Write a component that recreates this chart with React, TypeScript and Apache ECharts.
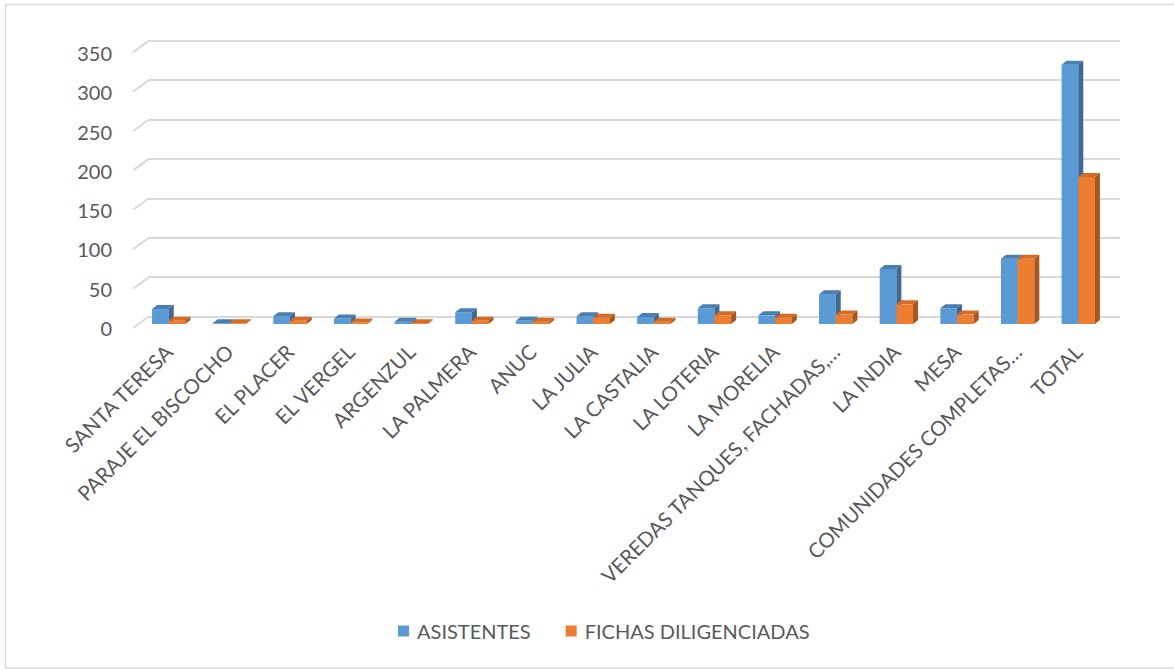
import React, { useEffect, useRef } from "react";
import * as echarts from "echarts";

const categories = [
  "SANTA TERESA",
  "PARAJE EL BISCOCHO",
  "EL PLACER",
  "EL VERGEL",
  "ARGENZUL",
  "LA PALMERA",
  "ANUC",
  "LA JULIA",
  "LA CASTALIA",
  "LA LOTERIA",
  "LA MORELIA",
  "VEREDAS TANQUES, FACHADAS,…",
  "LA INDIA",
  "MESA",
  "COMUNIDADES COMPLETAS…",
  "TOTAL",
];
const asistentes = [19, 1, 10, 7, 3, 15, 4, 10, 9, 20, 11, 38, 70, 20, 83, 330];
const fichas = [4, 1, 4, 2, 1, 4, 3, 8, 3, 11, 8, 12, 25, 12, 83, 187];
const yTicks = [0, 50, 100, 150, 200, 250, 300, 350];

const FONT = "Lato";
const TEXT = "#595959";
const GRID = "#d9d9d9";

function barRenderer(side: number, front: string, top: string, sideC: string) {
  return (params: any, api: any) => {
    const i = api.value(0);
    const v = api.value(1);
    const t = api.coord([i, v]);
    const b = api.coord([i, 0]);
    const band = api.size([1, 0])[0];
    const w = band * 0.275;
    const x0 = side === 0 ? t[0] - w : t[0];
    const x1 = x0 + w;
    const yT = t[1];
    const yB = b[1];
    const dx = 5;
    const dy = -4;
    return {
      type: "group",
      children: [
        {
          type: "polygon",
          shape: { points: [[x0, yT], [x1, yT], [x1, yB], [x0, yB]] },
          style: { fill: front },
        },
        {
          type: "polygon",
          shape: { points: [[x0, yT], [x0 + dx, yT + dy], [x1 + dx, yT + dy], [x1, yT]] },
          style: { fill: top },
        },
        {
          type: "polygon",
          shape: { points: [[x1, yT], [x1 + dx, yT + dy], [x1 + dx, yB + dy], [x1, yB]] },
          style: { fill: sideC },
        },
      ],
    };
  };
}

export default function App() {
  const ref = useRef<HTMLDivElement>(null);
  useEffect(() => {
    if (!ref.current) return;
    const chart = echarts.init(ref.current, null, { renderer: "svg" });
    chart.setOption({
      animation: false,
      textStyle: { fontFamily: FONT, color: TEXT },
      graphic: [
        {
          type: "rect",
          shape: { x: 5.5, y: 4.5, width: 1180, height: 663.5 },
          style: { fill: "none", stroke: GRID, lineWidth: 1.5 },
          silent: true,
          z: -10,
        },
      ],
      legend: {
        left: 393,
        top: 616,
        itemWidth: 11,
        itemHeight: 11,
        itemGap: 35,
        icon: "rect",
        textStyle: { fontFamily: FONT, fontSize: 20, color: TEXT, padding: [0, 0, 0, 3] },
        data: ["ASISTENTES", "FICHAS DILIGENCIADAS"],
      },
      grid: [
        { left: 149, right: 54, top: 40.7, bottom: 352.5, outerBoundsMode: "none", containLabel: false },
        { left: 138.4, width: 970.2, top: 49, bottom: 345, outerBoundsMode: "none", containLabel: false },
        { left: 133, right: 54, top: 53, bottom: 341, outerBoundsMode: "none", containLabel: false },
      ],
      xAxis: [
        { gridIndex: 0, type: "value", min: 0, max: 1, show: false },
        {
          gridIndex: 1,
          type: "category",
          data: categories,
          axisLine: { show: false },
          axisTick: { show: false },
          axisLabel: {
            interval: 0,
            rotate: 45,
            margin: 24,
            fontFamily: FONT,
            fontSize: 20.5,
            color: TEXT,
          },
        },
        { gridIndex: 2, type: "value", min: 0, max: 1, show: false },
      ],
      yAxis: [
        {
          gridIndex: 0,
          type: "value",
          min: 0,
          max: 350,
          interval: 50,
          axisLine: { show: false },
          axisTick: { show: false },
          axisLabel: { show: false },
          splitLine: { show: true, lineStyle: { color: GRID, width: 2 } },
        },
        {
          gridIndex: 1,
          type: "value",
          min: 0,
          max: 350,
          interval: 50,
          show: false,
        },
        {
          gridIndex: 2,
          type: "value",
          min: 0,
          max: 350,
          interval: 50,
          axisLine: { show: false },
          axisTick: { show: false },
          splitLine: { show: false },
          axisLabel: { margin: 21, fontFamily: FONT, fontSize: 20, color: TEXT },
        },
      ],
      series: [
        {
          type: "custom",
          name: "diagonals",
          xAxisIndex: 0,
          yAxisIndex: 0,
          silent: true,
          data: yTicks.map((v) => [0, v]),
          renderItem: (params: any, api: any) => {
            const p = api.coord([0, api.value(1)]);
            return {
              type: "line",
              shape: { x1: p[0] - 16, y1: p[1] + 11.5, x2: p[0], y2: p[1] },
              style: { stroke: GRID, lineWidth: 2 },
            };
          },
        },
        {
          type: "custom",
          name: "ASISTENTES",
          xAxisIndex: 1,
          yAxisIndex: 1,
          itemStyle: { color: "#5b9bd5" },
          encode: { x: 0, y: 1 },
          data: asistentes.map((v, i) => [i, v]),
          renderItem: barRenderer(0, "#5b9bd5", "#4a7fb3", "#3e6a92"),
        },
        {
          type: "custom",
          name: "FICHAS DILIGENCIADAS",
          xAxisIndex: 1,
          yAxisIndex: 1,
          itemStyle: { color: "#ed7d31" },
          encode: { x: 0, y: 1 },
          data: fichas.map((v, i) => [i, v]),
          renderItem: barRenderer(1, "#ed7d31", "#d46c27", "#a8561f"),
        },
      ],
    });
    return () => chart.dispose();
  }, []);
  return (
    <div
      ref={ref}
      style={{ position: "absolute", left: 0, top: 0, width: 1174, height: 669, background: "#fff" }}
    />
  );
}
